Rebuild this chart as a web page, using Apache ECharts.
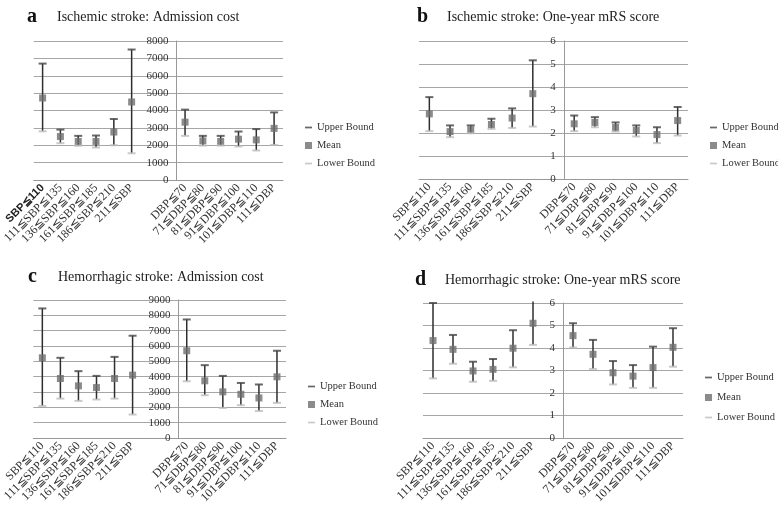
<!DOCTYPE html>
<html>
<head>
<meta charset="UTF-8">
<title>Stroke BP groups</title>
<script src="https://cdn.jsdelivr.net/npm/echarts@6/dist/echarts.min.js"></script>
</head>
<body style="margin:0;background:#fff;">
	<div id="main" style="width: 778px;height:515px;"></div>
	<script type="text/javascript">
	// category labels
	var sbpCats = ['SBP≦110', '111≦SBP≦135', '136≦SBP≦160', '161≦SBP≦185', '186≦SBP≦210', '211≦SBP'];
	var dbpCats = ['DBP≦70', '71≦DBP≦80', '81≦DBP≦90', '91≦DBP≦100', '101≦DBP≦110', '111≦DBP'];

	// a: ischemic stroke, admission cost (6 SBP groups then 6 DBP groups)
	var aUpper = [6700, 2900, 2540, 2560, 3510, 7510, 4050, 2540, 2540, 2790, 2930, 3890];
	var aMean  = [4720, 2500, 2220, 2220, 2760, 4490, 3330, 2250, 2220, 2350, 2310, 2970];
	var aLower = [2800, 2120, 1970, 1870, 2000, 1540, 2540, 1980, 1980, 1930, 1700, 2020];

	// b: ischemic stroke, one-year mRS
	var bUpper = [3.56, 2.33, 2.33, 2.62, 3.07, 5.16, 2.76, 2.69, 2.46, 2.33, 2.25, 3.13];
	var bMean  = [2.83, 2.06, 2.14, 2.37, 2.65, 3.71, 2.40, 2.46, 2.24, 2.11, 1.93, 2.54];
	var bLower = [2.08, 1.82, 1.99, 2.18, 2.22, 2.28, 2.08, 2.25, 2.06, 1.85, 1.56, 1.89];

	// c: hemorrhagic stroke, admission cost
	var cUpper = [8450, 5230, 4360, 4050, 5290, 6670, 7730, 4750, 4050, 3590, 3490, 5690];
	var cMean  = [5230, 3880, 3400, 3290, 3880, 4100, 5690, 3730, 3010, 2850, 2610, 3990];
	var cLower = [2090, 2570, 2420, 2510, 2570, 1530, 3700, 2790, 1960, 2140, 1760, 2290];

	// d: hemorrhagic stroke, one-year mRS
	var dUpper = [6.00, 4.58, 3.39, 3.51, 4.79, 6.07, 5.10, 4.36, 3.42, 3.24, 4.06, 4.88];
	var dMean  = [4.33, 3.94, 2.98, 3.05, 3.99, 5.10, 4.55, 3.72, 2.90, 2.75, 3.13, 4.03];
	var dLower = [2.65, 3.30, 2.50, 2.54, 3.14, 4.14, 4.02, 3.07, 2.38, 2.23, 2.23, 3.17];

	var yMax = [8000, 6, 9000, 6];
	var yStep = [1000, 1, 1000, 1];
	var letters = ['a', 'b', 'c', 'd'];
	var titles = ['Ischemic stroke: Admission cost', 'Ischemic stroke: One-year mRS score',
		'Hemorrhagic stroke: Admission cost', 'Hemorrhagic stroke: One-year mRS score'];

	// layout of the four panels (grid box, empty slots between SBP and DBP, title and legend spots)
	var panels = [
		{left: 33, top: 41, width: 250, height: 139, gap: 2, tx: 52, ty: 5, lx: 305, ly: 122, lg: 7},
		{left: 419, top: 41, width: 269, height: 138, gap: 1, tx: 442, ty: 5, lx: 710, ly: 122, lg: 7},
		{left: 32, top: 300, width: 254, height: 138, gap: 2, tx: 53, ty: 265, lx: 308, ly: 381, lg: 7},
		{left: 423, top: 303, width: 260, height: 135, gap: 1, tx: 440, ty: 268, lx: 705, ly: 372, lg: 9}
	];
	var uppers = [aUpper, bUpper, cUpper, dUpper];
	var means = [aMean, bMean, cMean, dMean];
	var lowers = [aLower, bLower, cLower, dLower];

	var serif = 'Liberation Serif';
	var dash = 'path://M0,0H8V2H0Z';

	var option = {
		animation: false,
		backgroundColor: '#fff',
		title: [], legend: [], grid: [], xAxis: [], yAxis: [], series: []
	};

	panels.forEach(function (p, k) {
		var slots = 12 + p.gap;
		var cats = sbpCats.slice();
		for (var g = 0; g < p.gap; g++) cats.push('');
		cats = cats.concat(dbpCats);

		option.title.push({
			text: letters[k], left: p.tx - 30, top: p.ty - 3,
			textStyle: {fontFamily: serif, fontWeight: 'bold', fontSize: 20, color: '#111'}
		});
		option.title.push({
			text: titles[k], left: p.tx, top: p.ty,
			textStyle: {fontFamily: serif, fontWeight: 'normal', fontSize: 14, color: '#222'}
		});
		option.legend.push({
			orient: 'vertical', left: p.lx, top: p.ly, padding: 0,
			itemWidth: 7, itemHeight: 7, itemGap: p.lg,
			textStyle: {fontFamily: serif, fontSize: 10.5, color: '#333'},
			data: [
				{name: 'Upper Bound', icon: dash},
				{name: 'Mean', icon: 'rect'},
				{name: 'Lower Bound', icon: dash}
			]
		});
		option.grid.push({left: p.left, top: p.top, width: p.width, height: p.height});
		option.xAxis.push({
			type: 'category', gridIndex: k, data: cats, boundaryGap: true,
			axisLine: {lineStyle: {color: '#999'}},
			axisTick: {interval: 0, length: 4, lineStyle: {color: '#999'}},
			axisLabel: {
				interval: 0, rotate: 45, margin: 6, fontFamily: serif, fontSize: 12, color: '#333',
				formatter: function (v, i) { return (k === 0 && i === 0) ? '{b|' + v + '}' : v; },
				rich: {b: {fontFamily: 'Liberation Sans', fontWeight: 'bold', fontSize: 11, color: '#222'}}
			}
		});
		option.yAxis.push({
			type: 'value', gridIndex: k, min: 0, max: yMax[k], interval: yStep[k],
			offset: -(6 + p.gap) / slots * p.width,
			axisLine: {show: true, lineStyle: {color: '#999'}},
			axisTick: {show: false},
			splitLine: {lineStyle: {color: '#a6a6a6'}},
			axisLabel: {
				margin: 8, fontFamily: serif, fontSize: 11, color: '#333',
				formatter: function (v) { return String(v); }
			}
		});

		function idx(i) { return i < 6 ? i : i + p.gap; }
		var rangeData = [], upData = [], meanData = [], lowData = [];
		for (var i = 0; i < 12; i++) {
			rangeData.push([idx(i), lowers[k][i], uppers[k][i]]);
			upData.push([idx(i), uppers[k][i]]);
			meanData.push([idx(i), means[k][i]]);
			lowData.push([idx(i), lowers[k][i]]);
		}
		option.series.push({
			type: 'custom', name: 'range', xAxisIndex: k, yAxisIndex: k, z: 1,
			encode: {x: 0, y: [1, 2]},
			renderItem: function (params, api) {
				var lo = api.coord([api.value(0), api.value(1)]);
				var hi = api.coord([api.value(0), api.value(2)]);
				return {
					type: 'line',
					shape: {x1: lo[0], y1: lo[1], x2: hi[0], y2: hi[1]},
					style: {stroke: '#2e2e2e', lineWidth: 1.5}
				};
			},
			data: rangeData
		});
		option.series.push({
			type: 'scatter', name: 'Upper Bound', xAxisIndex: k, yAxisIndex: k, z: 3,
			symbol: 'rect', symbolSize: [8, 2], itemStyle: {color: '#444'}, data: upData
		});
		option.series.push({
			type: 'scatter', name: 'Mean', xAxisIndex: k, yAxisIndex: k, z: 3,
			symbol: 'rect', symbolSize: [7, 7], itemStyle: {color: '#6e6e6e'}, data: meanData
		});
		option.series.push({
			type: 'scatter', name: 'Lower Bound', xAxisIndex: k, yAxisIndex: k, z: 3,
			symbol: 'rect', symbolSize: [8, 2], itemStyle: {color: '#bdbdbd'}, data: lowData
		});
	});

	var myChart = echarts.init(document.getElementById('main'));
	myChart.setOption(option);
	</script>
</body>
</html>
